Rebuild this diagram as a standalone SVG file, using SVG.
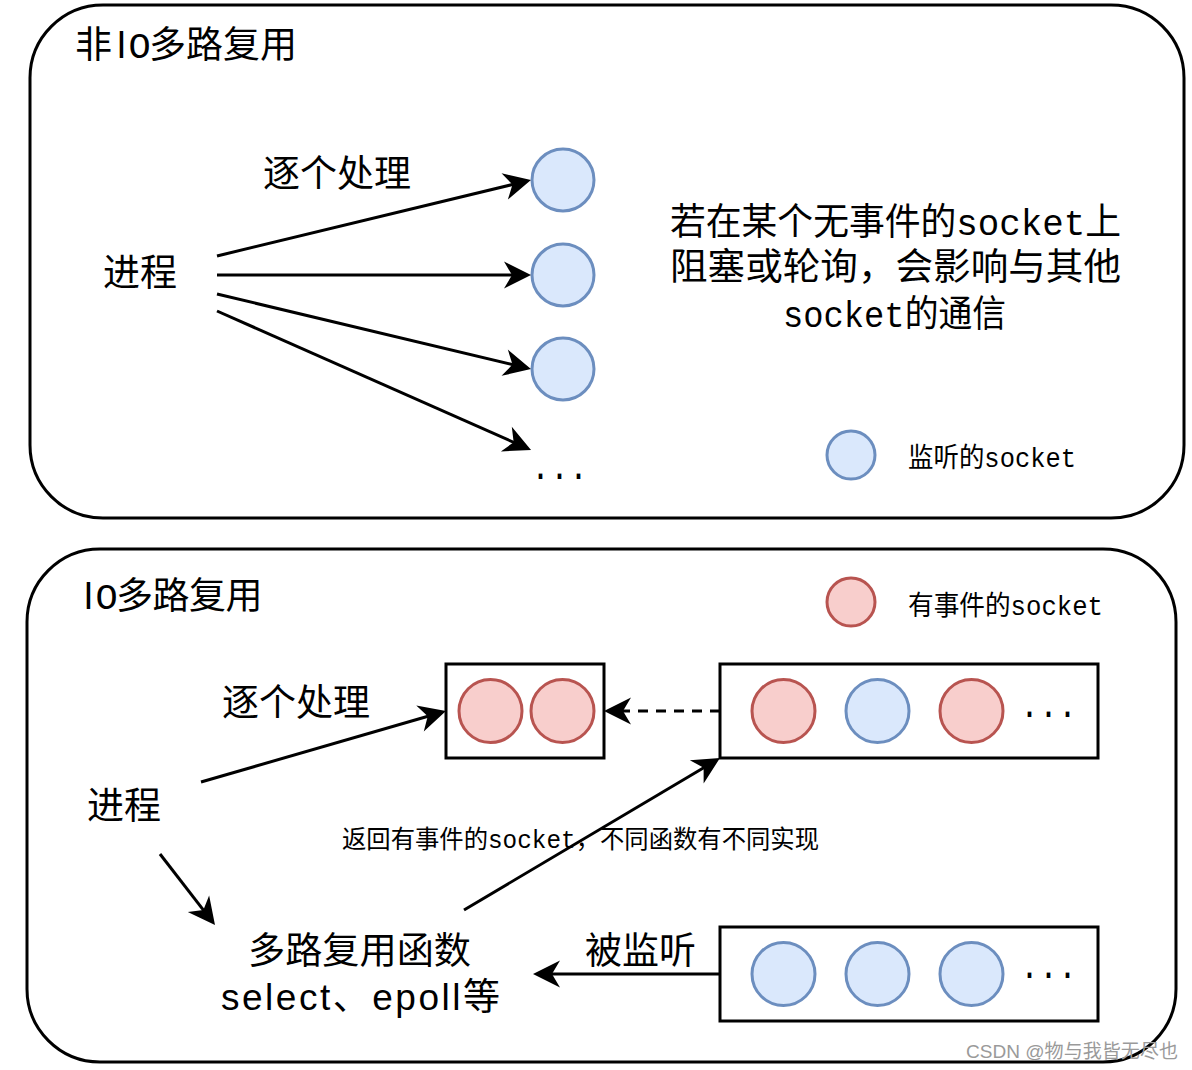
<svg xmlns="http://www.w3.org/2000/svg" width="1192" height="1070" viewBox="0 0 1192 1070">
<style>
  .frame{fill:#fff;stroke:#000;stroke-width:3}
  .box{fill:#fff;stroke:#000;stroke-width:3}
  .blue{fill:#dae8fc;stroke:#6c8ebf;stroke-width:3}
  .red{fill:#f8cecc;stroke:#b85450;stroke-width:3}
  .t{font-family:"Liberation Mono","Noto Sans CJK SC",monospace;fill:#000}
  .s{font-family:"Noto Sans CJK SC",sans-serif;fill:#000}
  .ls{font-family:"Liberation Sans","Noto Sans CJK SC",sans-serif;fill:#000}
  .big{font-size:37px}
  .mid{font-size:27px}
  .sm{font-size:25px}
  .edge{fill:none;stroke:#000;stroke-width:3}
  .dash{stroke-dasharray:10 8}
</style>
<defs>
  <marker id="arr" viewBox="-28 -14 29 28" refX="-16" refY="0" markerWidth="29" markerHeight="28" markerUnits="userSpaceOnUse" orient="auto">
    <path d="M0,0 L-27,-13.5 L-19,0 L-27,13.5 Z" fill="#000"/>
  </marker>
</defs>

<g id="frame-non-io">
  <rect class="frame" x="30" y="5" width="1154" height="513" rx="73" ry="73"/>
  <text class="s big" y="58" text-anchor="middle"><tspan x="93.5">非</tspan><tspan x="121.5">I</tspan><tspan x="139.5" font-family="Liberation Mono">O</tspan><tspan x="167.5">多</tspan><tspan x="204.5">路</tspan><tspan x="241.5">复</tspan><tspan x="278.5">用</tspan></text>
</g>
<g id="frame-io">
  <rect class="frame" x="27" y="549" width="1149" height="513" rx="73" ry="73"/>
  <text class="s big" y="609" text-anchor="middle"><tspan x="88.5">I</tspan><tspan x="106.5" font-family="Liberation Mono">O</tspan><tspan x="134.5">多</tspan><tspan x="171">路</tspan><tspan x="207.5">复</tspan><tspan x="244">用</tspan></text>
</g>

<g id="top-process"><text class="t big" x="103" y="286">进程</text></g>
<g id="top-label"><text class="t big" x="263" y="187">逐个处理</text></g>
<g id="top-socket-1"><circle class="blue" cx="563" cy="180" r="31"/></g>
<g id="top-socket-2"><circle class="blue" cx="563" cy="275" r="31"/></g>
<g id="top-socket-3"><circle class="blue" cx="563" cy="369" r="31"/></g>
<g id="top-more"><text class="t big" x="531" y="479" textLength="57" lengthAdjust="spacingAndGlyphs">...</text></g>
<g id="top-note">
  <text class="t big" x="670" y="235" textLength="451" lengthAdjust="spacingAndGlyphs">若在某个无事件的socket上</text>
  <text class="t big" x="670" y="280" textLength="451" lengthAdjust="spacingAndGlyphs">阻塞或轮询，会影响与其他</text>
  <text class="t big" x="783" y="327" textLength="223" lengthAdjust="spacingAndGlyphs">socket的通信</text>
</g>
<g id="legend-listen">
  <circle class="blue" cx="851" cy="455" r="24"/>
  <text class="t mid" x="908" y="467" textLength="168" lengthAdjust="spacingAndGlyphs">监听的socket</text>
</g>

<g id="legend-event">
  <circle class="red" cx="851" cy="602" r="24"/>
  <text class="t mid" x="908" y="615" textLength="195" lengthAdjust="spacingAndGlyphs">有事件的socket</text>
</g>
<g id="ready-box">
  <rect class="box" x="446" y="664" width="158" height="94"/>
  <circle class="red" cx="490.5" cy="711" r="31.5"/>
  <circle class="red" cx="562.5" cy="711" r="31.5"/>
</g>
<g id="all-box">
  <rect class="box" x="720" y="664" width="378" height="94"/>
  <circle class="red" cx="783.5" cy="711" r="31.5"/>
  <circle class="blue" cx="877.5" cy="711" r="31.5"/>
  <circle class="red" cx="971.5" cy="711" r="31.5"/>
  <text class="t big" x="1020" y="717" textLength="57" lengthAdjust="spacingAndGlyphs">...</text>
</g>
<g id="listen-box">
  <rect class="box" x="720" y="927" width="378" height="94"/>
  <circle class="blue" cx="783.5" cy="974" r="31.5"/>
  <circle class="blue" cx="877.5" cy="974" r="31.5"/>
  <circle class="blue" cx="971.5" cy="974" r="31.5"/>
  <text class="t big" x="1020" y="978" textLength="57" lengthAdjust="spacingAndGlyphs">...</text>
</g>
<g id="bottom-process"><text class="t big" x="87" y="819">进程</text></g>
<g id="bottom-label"><text class="t big" x="222" y="716">逐个处理</text></g>
<g id="mux-func">
  <text class="t big" x="248" y="964" textLength="223" lengthAdjust="spacingAndGlyphs">多路复用函数</text>
  <text class="ls big" x="221" y="1010" textLength="279" lengthAdjust="spacing">select、epoll等</text>
</g>
<g id="listened-label"><text class="t big" x="585" y="964">被监听</text></g>
<g id="return-label"><text class="t sm" x="342" y="848" textLength="477" lengthAdjust="spacingAndGlyphs">返回有事件的socket，不同函数有不同实现</text></g>

<g id="connectors">
  <line class="edge" x1="217" y1="256" x2="515.4" y2="183.8" marker-end="url(#arr)"/>
  <line class="edge" x1="217" y1="275" x2="515" y2="275" marker-end="url(#arr)"/>
  <line class="edge" x1="217" y1="294" x2="515.4" y2="365.3" marker-end="url(#arr)"/>
  <line class="edge" x1="217" y1="311" x2="516.4" y2="443.5" marker-end="url(#arr)"/>
  <line class="edge" x1="201" y1="782" x2="430.6" y2="715.5" marker-end="url(#arr)"/>
  <line class="edge" x1="160" y1="854" x2="205.2" y2="912.4" marker-end="url(#arr)"/>
  <line class="edge" x1="464" y1="910" x2="706.2" y2="766.2" marker-end="url(#arr)"/>
  <line class="edge" x1="720" y1="974" x2="549" y2="974" marker-end="url(#arr)"/>
  <line class="edge dash" x1="720" y1="711" x2="620" y2="711" marker-end="url(#arr)"/>
</g>

<g id="watermark">
  <text x="966" y="1058" font-family="'Liberation Sans','Noto Sans CJK SC',sans-serif" font-size="19" fill="#9a9a9a" textLength="212" lengthAdjust="spacingAndGlyphs">CSDN @物与我皆无尽也</text>
</g>
</svg>
